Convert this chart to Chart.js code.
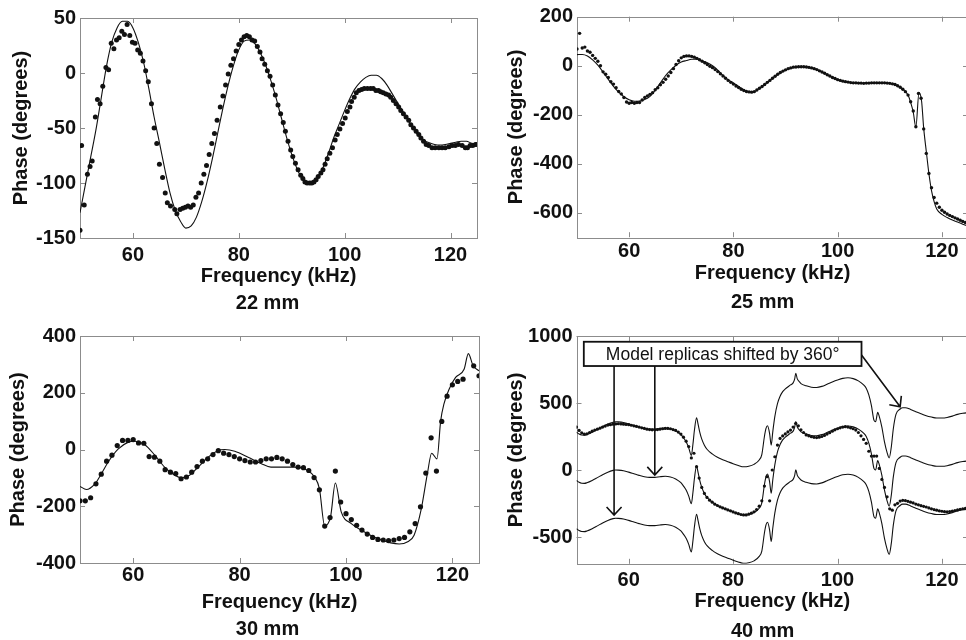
<!DOCTYPE html>
<html>
<head>
<meta charset="utf-8">
<title>Phase vs frequency</title>
<script src="https://cdn.jsdelivr.net/npm/chart.js@4.4.1/dist/chart.umd.min.js"></script>
<style>
  html, body { margin: 0; padding: 0; background: #fff; width: 966px; height: 640px; overflow: hidden; }
  body { position: relative; }
  canvas { position: absolute; }
  .cap { position: absolute; transform: translateX(-50%); white-space: nowrap;
         font: bold 20px/24px "Liberation Sans", Arial, Helvetica, sans-serif; color: #111; }
</style>
</head>
<body>
<canvas id="c22" width="483" height="320" style="left:0;top:0"></canvas>
<canvas id="c25" width="490" height="320" style="left:483px;top:0"></canvas>
<canvas id="c30" width="483" height="330" style="left:0;top:320px"></canvas>
<canvas id="c40" width="490" height="330" style="left:483px;top:320px"></canvas>
<script>
// ---- data ----
var freqTicks = [60, 80, 100, 120];

// 22 mm
var ticks22 = [-150, -100, -50, 0, 50];
var modelFreq22 = [50, 51, 52, 53, 54, 55, 56, 57, 58, 59,
  60, 61, 62, 63, 64, 65, 66, 67, 68, 69,
  70, 71, 72, 73, 74, 75, 76, 77, 78, 79,
  80, 81, 82, 83, 84, 85, 86, 87, 88, 89,
  90, 91, 92, 93, 94, 95, 96, 97, 98, 99,
  100, 101, 102, 103, 104, 105, 106, 107, 108, 109,
  110, 111, 112, 113, 114, 115, 116, 117, 118, 119,
  120, 121, 122, 123, 124, 125];
var modelPhase22 = [-127, -102, -77, -52, -23, 6, 28, 41, 47, 47,
  41, 28, 10, -14, -40, -63, -87, -109, -125, -135,
  -141, -139, -131, -117, -99, -78, -55, -32, -11, 7,
  21, 29, 30, 27, 19, 8, -6, -22, -40, -58,
  -74, -87, -96, -100, -99, -94, -85, -72, -58, -46,
  -34, -23, -14, -8, -4, -2, -2, -5, -11, -19,
  -27, -35, -43, -51, -57, -61, -63.5, -65, -65.5, -65,
  -64, -63, -62, -62, -64, -65];
var dotFreq22 = [50, 50.3, 50.8, 51.4, 51.9, 52.3, 52.9, 53.3, 53.8, 54.3,
  54.9, 55.4, 55.9, 56.4, 56.9, 57.4, 57.9, 58.4, 58.9, 59.4,
  59.9, 60.4, 60.9, 61.4, 61.9, 62.4, 62.9, 63.5, 64.0, 64.5,
  65.0, 65.6, 66.1, 66.5, 67.1, 67.9, 68.3, 68.9, 69.4, 69.9,
  70.4, 70.9, 71.4, 71.9, 72.4, 72.9, 73.4, 73.9, 74.4, 74.9,
  75.4, 75.9, 76.5, 77.0, 77.5, 78.0, 78.5, 79.0, 79.5, 80.0,
  80.5, 81.0, 81.5, 82.0, 82.5, 83.0, 83.5, 84.0, 84.4, 84.9,
  85.4, 85.9, 86.4, 86.9, 87.4, 87.9, 88.4, 88.8, 89.3, 89.8,
  90.2, 90.7, 91.2, 91.7, 92.1, 92.5, 92.9, 93.4, 93.8, 94.2,
  94.6, 95.0, 95.5, 95.9, 96.3, 96.7, 97.2, 97.7, 98.2, 98.6,
  99.1, 99.6, 100.1, 100.5, 101.0, 101.3, 101.8, 102.2, 102.7, 103.2,
  103.7, 104.3, 104.9, 105.4, 105.9, 106.4, 106.8, 107.3, 107.8, 108.3,
  108.7, 109.2, 109.7, 110.2, 110.6, 111.1, 111.6, 112.1, 112.5, 113.0,
  113.5, 114.0, 114.4, 114.9, 115.4, 115.9, 116.5, 117.1, 117.8, 118.4,
  119.0, 119.7, 120.3, 120.9, 121.5, 122.2, 122.8, 123.2, 123.7, 124.2,
  124.7, 125.0];
var dotPhase22 = [-143, -66, -120, -92, -85, -80, -40, -24, -28, -12,
  5, 3, 27, 22, 30, 32, 38, 35, 44, 34,
  28, 27, 21, 18, 11, 2, -8, -28, -50, -64,
  -83, -95, -109, -118, -121, -124, -128, -124, -123, -122,
  -121, -122, -120, -113, -109, -100, -92, -84, -74, -64,
  -55, -43, -31, -21, -11, -1, 7, 13, 20, 26,
  30, 33, 34, 33, 30, 29, 24, 19, 13, 8,
  2, -3, -11, -20, -29, -37, -45, -53, -62, -70,
  -76, -82, -88, -93, -96, -99, -100, -100, -100, -99,
  -97, -94, -91, -88, -83, -78, -73, -68, -61, -56,
  -51, -46, -41, -35, -31, -26, -22, -18, -16, -15,
  -14, -14, -14, -14, -16, -16, -17, -18, -19, -20,
  -22, -25, -28, -31, -34, -37, -40, -43, -47, -50,
  -53, -56, -59, -62, -65, -66, -68, -68, -68, -68,
  -68, -67, -66, -66, -65, -66, -68, -68, -66, -66,
  -65, -65];

// 25 mm
var ticks25 = [-600, -400, -200, 0, 200];
var modelFreq25 = [50, 51, 52, 53, 54, 55, 56, 57, 58, 59,
  60, 61, 62, 63, 64, 65, 66, 67, 68, 69,
  70, 71, 72, 73, 74, 75, 76, 77, 78, 79,
  80, 81, 82, 83, 84, 85, 86, 87, 88, 89,
  90, 91, 92, 93, 94, 95, 96, 97, 98, 99,
  100, 101, 102, 103, 104, 105, 106, 107, 108, 109,
  110, 111, 112, 113, 113.5, 114, 114.5, 115, 115.6, 116.1,
  116.5, 117, 117.5, 118, 118.5, 119, 120, 121, 122, 123,
  124, 125];
var modelPhase25 = [45, 46, 40, 24, 2, -26, -56, -84, -108, -127,
  -139, -145, -144, -138, -125, -100, -70, -40, -17, 2,
  15, 21, 26, 27, 20, 12, 0, -18, -40, -58,
  -70, -85, -98, -107, -106, -92, -77, -60, -43, -30,
  -19, -10, -5, -4, -5, -9, -16, -26, -37, -48,
  -57, -63, -67, -70, -71, -72, -71, -70, -70, -70,
  -72, -77, -88, -106, -120, -150, -190, -250, -110, -145,
  -255, -350, -440, -510, -555, -585, -607, -620, -630, -638,
  -647, -655];
// measured points, every 0.5 kHz (also used for 40 mm)
var halfKHz = [50, 50.5, 51, 51.5, 52, 52.5, 53, 53.5, 54, 54.5,
  55, 55.5, 56, 56.5, 57, 57.5, 58, 58.5, 59, 59.5,
  60, 60.5, 61, 61.5, 62, 62.5, 63, 63.5, 64, 64.5,
  65, 65.5, 66, 66.5, 67, 67.5, 68, 68.5, 69, 69.5,
  70, 70.5, 71, 71.5, 72, 72.5, 73, 73.5, 74, 74.5,
  75, 75.5, 76, 76.5, 77, 77.5, 78, 78.5, 79, 79.5,
  80, 80.5, 81, 81.5, 82, 82.5, 83, 83.5, 84, 84.5,
  85, 85.5, 86, 86.5, 87, 87.5, 88, 88.5, 89, 89.5,
  90, 90.5, 91, 91.5, 92, 92.5, 93, 93.5, 94, 94.5,
  95, 95.5, 96, 96.5, 97, 97.5, 98, 98.5, 99, 99.5,
  100, 100.5, 101, 101.5, 102, 102.5, 103, 103.5, 104, 104.5,
  105, 105.5, 106, 106.5, 107, 107.5, 108, 108.5, 109, 109.5,
  110, 110.5, 111, 111.5, 112, 112.5, 113, 113.5, 114, 114.5,
  115, 115.5, 116, 116.5, 117, 117.5, 118, 118.5, 119, 119.5,
  120, 120.5, 121, 121.5, 122, 122.5, 123, 123.5, 124, 124.5,
  125];
var dotPhase25 = [68, 132, 72, 76, 60, 55, 42, 30, 18, 0,
  -25, -35, -48, -65, -75, -90, -105, -115, -130, -148,
  -153, -150, -153, -150, -150, -140, -130, -123, -117, -110,
  -98, -90, -78, -68, -55, -42, -28, -12, 5, 20,
  32, 38, 40, 40, 38, 35, 30, 24, 18, 12,
  5, -2, -8, -16, -24, -33, -42, -51, -60, -68,
  -75, -83, -89, -96, -101, -105, -107, -108, -106, -99,
  -92, -85, -77, -68, -60, -51, -43, -35, -28, -22,
  -17, -12, -9, -6, -5, -4, -4, -4, -5, -7,
  -9, -12, -16, -21, -26, -31, -37, -42, -48, -52,
  -57, -60, -63, -65, -67, -69, -70, -70, -71, -71,
  -72, -71, -71, -70, -70, -70, -70, -70, -70, -71,
  -72, -74, -77, -82, -88, -96, -106, -120, -147, -185,
  -249, -113, -133, -258, -358, -440, -498, -538, -561, -578,
  -590, -598, -605, -611, -616, -621, -626, -631, -636, -640,
  -644];

// 30 mm
var ticks30 = [-400, -200, 0, 200, 400];
var modelFreq30 = [50, 51.2, 52.8, 54, 55.3, 57.2, 59.1, 60.3, 62.2, 64.1,
  65.9, 67.8, 69.1, 70.6, 72.2, 74.1, 75.9, 77.2, 79.1, 81.6,
  84.1, 85.9, 88.4, 90.3, 92.8, 94.1, 95, 96, 97.1, 98,
  99.1, 101, 103.4, 105.9, 108.4, 110, 111.6, 112.8, 114.1, 115.3,
  116.1, 117.1, 117.8, 118.4, 119.4, 120.6, 122.2, 123, 123.9, 125];
var modelPhase30 = [-130, -141, -121, -86, -44, 2, 26, 29, 17, -21,
  -62, -91, -100, -91, -62, -27, -4, 0, -6, -27,
  -50, -62, -62, -62, -74, -97, -138, -270, -237, -118,
  -220, -261, -290, -314, -329, -333, -325, -302, -214, -85,
  -13, -33, 102, 160, 213, 254, 283, 338, 295, 277];
var dotFreq30 = [50, 51, 52, 53, 54, 55, 56, 57, 58, 59,
  60, 61, 62, 63, 64, 65, 66, 67, 68, 69,
  70, 71, 72, 73, 74, 75, 76, 77, 78, 79,
  80, 81, 82, 83, 84, 85, 86, 87, 88, 89,
  90, 91, 92, 93, 94, 95, 96, 97, 98, 99,
  100, 101, 102, 103, 104, 105, 106, 107, 108, 109,
  110, 111, 112, 113, 114, 115, 116, 117, 118, 119,
  120, 121, 122, 124, 125];
var dotPhase30 = [-181, -181, -170, -121, -87, -41, -20, 14, 32, 32,
  35, 23, 22, -25, -27, -41, -71, -80, -85, -103,
  -97, -80, -60, -41, -33, -18, -4, -13, -18, -25,
  -33, -39, -44, -44, -39, -33, -33, -28, -33, -41,
  -53, -62, -64, -74, -99, -142, -270, -240, -76, -185,
  -226, -247, -267, -284, -298, -310, -317, -319, -321, -319,
  -314, -310, -290, -261, -202, -83, 41, -76, 99, 188,
  228, 240, 248, 295, 260];

// 40 mm
var ticks40 = [-500, 0, 500, 1000];
var replicaShift = 360;
var modelFreq40 = [50, 50.5, 51, 51.5, 52, 53, 54, 55, 56, 57,
  57.5, 58, 59, 60, 61, 62, 63, 64, 65, 66,
  67, 68, 69, 70, 70.5, 71, 71.5, 72, 72.3, 72.6,
  73, 73.3, 73.6, 74, 74.5, 75, 76, 77, 78, 79,
  80, 81, 82, 83, 84, 85, 85.5, 86, 86.3, 86.6,
  87, 87.3, 87.6, 88, 88.5, 89, 89.5, 90, 91, 91.5,
  91.8, 92, 92.3, 92.7, 93, 94, 95, 96, 97, 98,
  99, 100, 101, 102, 103, 104, 105, 105.5, 106, 106.5,
  107, 107.3, 107.7, 108, 108.5, 109, 109.5, 109.9, 110.3, 110.7,
  111.2, 112, 112.5, 113, 114, 115, 116, 117, 118, 119,
  120, 121, 122, 123, 124, 125];
var modelPhase40 = [-78, -92, -99, -100, -95, -78, -57, -35, -16, -3,
  0, -1, -6, -16, -28, -40, -50, -55, -55, -50,
  -47, -52, -67, -95, -120, -150, -195, -252, -170, -60,
  30, -20, -75, -130, -175, -205, -240, -265, -283, -298,
  -313, -326, -336, -332, -318, -285, -245, -110, -50, -30,
  -90, -174, -75, 40, 135, 190, 225, 245, 275, 290,
  320, 362, 320, 298, 285, 268, 258, 256, 264, 280,
  297, 312, 324, 328, 322, 305, 275, 250, 200, 120,
  10, 0, 70, 40, -40, -150, -230, -270, -190, -50,
  55, 95, 105, 105, 92, 75, 60, 45, 35, 28,
  28, 32, 42, 55, 63, 68];
var dotPhase40 = [320, 295, 278, 268, 270, 280, 290, 298, 305, 312,
  320, 328, 335, 338, 342, 344, 345, 344, 342, 340,
  338, 334, 330, 325, 320, 315, 310, 305, 302, 300,
  300, 302, 305, 308, 310, 310, 308, 302, 295, 283,
  268, 245, 215, 175, 90, 125, 25, -60, -130, -175,
  -205, -225, -240, -255, -265, -275, -283, -290, -298, -305,
  -313, -320, -326, -332, -335, -335, -330, -322, -312, -295,
  -270, -230, -120, -50, -230, 0, 99, 186, 236, 254,
  269, 284, 298, 320, 348, 330, 300, 280, 262, 255,
  248, 244, 242, 245, 250, 258, 268, 278, 290, 300,
  308, 315, 320, 323, 320, 315, 308, 298, 280, 255,
  228, 199, 140, 104, 104, 104, 12, -70, -130, -200,
  -290, -300, -260, -249, -232, -226, -228, -234, -240, -246,
  -254, -260, -266, -271, -276, -283, -290, -295, -300, -305,
  -308, -311, -312, -310, -307, -303, -298, -293, -289, -286,
  -284];

// annotation on the 40 mm panel (data units)
var noteText = 'Model replicas shifted by 360\u00b0';
var noteBoxFreq = [51.4, 104.6];
var noteBoxPhase = [776, 957];
var arrowFromFreq = [57.2, 65.0, 104.6];
var arrowFromPhase = [776, 776, 858];
var arrowToFreq = [57.2, 65.0, 112.0];
var arrowToPhase = [-336, -37, 472];

var captions = ['22 mm', '25 mm', '30 mm', '40 mm'];

// ---- style ----
var INK = '#111';
var AXIS = '#8c8c8c';
var FAMILY = '"Liberation Sans", Arial, Helvetica, sans-serif';
var BOLD = { family: FAMILY, size: 20, weight: 'bold' };

function xy(xs, ys) {
  return xs.map(function(f, i) { return { x: f, y: ys[i] }; });
}

function modelSet(xs, ys) {
  return {
    data: xy(xs, ys),
    borderColor: INK,
    borderWidth: 1.1,
    pointRadius: 0,
    cubicInterpolationMode: 'monotone',
    fill: false
  };
}

function dotSet(xs, ys, r) {
  return {
    data: xy(xs, ys),
    showLine: false,
    pointRadius: r,
    pointBackgroundColor: INK,
    pointBorderWidth: 0
  };
}

// box round the plot with short inward ticks on all sides
var frame = {
  id: 'frame',
  beforeDatasetsDraw: function(chart) {
    var ctx = chart.ctx, a = chart.chartArea, x = chart.scales.x, y = chart.scales.y;
    ctx.save();
    ctx.strokeStyle = AXIS;
    ctx.lineWidth = 1;
    ctx.strokeRect(Math.round(a.left) + 0.5, Math.round(a.top) + 0.5,
      Math.round(a.right - a.left), Math.round(a.bottom - a.top));
    ctx.beginPath();
    x.ticks.forEach(function(t) {
      var p = Math.round(x.getPixelForValue(t.value)) + 0.5;
      ctx.moveTo(p, a.top); ctx.lineTo(p, a.top + 5);
      ctx.moveTo(p, a.bottom); ctx.lineTo(p, a.bottom - 5);
    });
    y.ticks.forEach(function(t) {
      var p = Math.round(y.getPixelForValue(t.value)) + 0.5;
      ctx.moveTo(a.left, p); ctx.lineTo(a.left + 5, p);
      ctx.moveTo(a.right, p); ctx.lineTo(a.right - 5, p);
    });
    ctx.stroke();
    ctx.restore();
  }
};

function arrowHead(ctx, x0, y0, x1, y1) {
  var ang = Math.atan2(y1 - y0, x1 - x0), len = 11, spread = 0.75;
  ctx.moveTo(x1 - len * Math.cos(ang - spread), y1 - len * Math.sin(ang - spread));
  ctx.lineTo(x1, y1);
  ctx.lineTo(x1 - len * Math.cos(ang + spread), y1 - len * Math.sin(ang + spread));
}

var note = {
  id: 'note',
  afterDatasetsDraw: function(chart) {
    var ctx = chart.ctx, x = chart.scales.x, y = chart.scales.y;
    var bl = x.getPixelForValue(noteBoxFreq[0]), br = x.getPixelForValue(noteBoxFreq[1]);
    var bb = y.getPixelForValue(noteBoxPhase[0]), bt = y.getPixelForValue(noteBoxPhase[1]);
    ctx.save();
    ctx.strokeStyle = INK;
    ctx.lineWidth = 1.6;
    ctx.beginPath();
    for (var i = 0; i < arrowFromFreq.length; i++) {
      var x0 = x.getPixelForValue(arrowFromFreq[i]), y0 = y.getPixelForValue(arrowFromPhase[i]);
      var x1 = x.getPixelForValue(arrowToFreq[i]), y1 = y.getPixelForValue(arrowToPhase[i]);
      ctx.moveTo(x0, y0); ctx.lineTo(x1, y1);
      arrowHead(ctx, x0, y0, x1, y1);
    }
    ctx.stroke();
    ctx.fillStyle = '#fff';
    ctx.fillRect(bl, bt, br - bl, bb - bt);
    ctx.lineWidth = 1.8;
    ctx.strokeRect(bl, bt, br - bl, bb - bt);
    ctx.fillStyle = INK;
    ctx.font = '17.5px ' + FAMILY;
    ctx.textAlign = 'center';
    ctx.textBaseline = 'middle';
    ctx.fillText(noteText, (bl + br) / 2, (bt + bb) / 2 + 1);
    ctx.restore();
  }
};

function drawPanel(id, g, yMin, yMax, yTicks, datasets, extra) {
  return new Chart(document.getElementById(id), {
    type: 'line',
    data: { datasets: datasets },
    options: {
      responsive: false,
      animation: false,
      events: [],
      layout: { padding: { left: 0, top: g.top, right: g.right, bottom: g.bottom } },
      plugins: {
        legend: { display: false },
        tooltip: { enabled: false }
      },
      scales: {
        x: {
          type: 'linear', min: 50, max: 125,
          grid: { display: false, drawTicks: false },
          border: { display: false },
          afterBuildTicks: function(s) { s.ticks = freqTicks.map(function(v) { return { value: v }; }); },
          afterFit: function(s) { s.height = g.xh; },
          ticks: { color: INK, font: BOLD, padding: g.xpad, maxRotation: 0, autoSkip: false,
            callback: function(v) { return String(v); } },
          title: { display: true, text: 'Frequency (kHz)', color: INK, font: BOLD, padding: 0 }
        },
        y: {
          type: 'linear', min: yMin, max: yMax,
          grid: { display: false, drawTicks: false },
          border: { display: false },
          afterBuildTicks: function(s) { s.ticks = yTicks.map(function(v) { return { value: v }; }); },
          afterFit: function(s) { s.width = g.left; },
          ticks: { color: INK, font: BOLD, padding: 4, autoSkip: false,
            callback: function(v) { return String(v); } },
          title: { display: true, text: 'Phase (degrees)', color: INK, font: BOLD,
            padding: { top: g.ytp, bottom: 0 } }
        }
      }
    },
    plugins: [frame].concat(extra || [])
  });
}

drawPanel('c22',
  { left: 80, top: 18, right: 6, bottom: 32, xh: 50, xpad: 5, ytp: 9.7 },
  -150, 50, ticks22,
  [modelSet(modelFreq22, modelPhase22), dotSet(dotFreq22, dotPhase22, 2.5)]);

drawPanel('c25',
  { left: 94, top: 16.7, right: 5, bottom: 34.8, xh: 48, xpad: 2.5, ytp: 21.5 },
  -700, 200, ticks25,
  [modelSet(modelFreq25, modelPhase25), dotSet(halfKHz, dotPhase25, 1.7)]);

drawPanel('c30',
  { left: 80, top: 15, right: 3, bottom: 35.3, xh: 51.7, xpad: 0.7, ytp: 6.3 },
  -400, 400, ticks30,
  [modelSet(modelFreq30, modelPhase30), dotSet(dotFreq30, dotPhase30, 2.6)]);

drawPanel('c40',
  { left: 93.5, top: 16, right: 5, bottom: 36.2, xh: 50, xpad: 4.2, ytp: 21.5 },
  -700, 1000, ticks40,
  [
    modelSet(modelFreq40, modelPhase40.map(function(p) { return p + replicaShift; })),
    modelSet(modelFreq40, modelPhase40),
    modelSet(modelFreq40, modelPhase40.map(function(p) { return p - replicaShift; })),
    dotSet(halfKHz, dotPhase40, 1.6)
  ],
  [note]);

// panel captions under each x-axis title
var capPos = [[267.5, 290], [762.7, 289], [267.5, 616.3], [762.7, 618]];
captions.forEach(function(text, i) {
  var el = document.createElement('div');
  el.className = 'cap';
  el.textContent = text;
  el.style.left = capPos[i][0] + 'px';
  el.style.top = capPos[i][1] + 'px';
  document.body.appendChild(el);
});
</script>
</body>
</html>
